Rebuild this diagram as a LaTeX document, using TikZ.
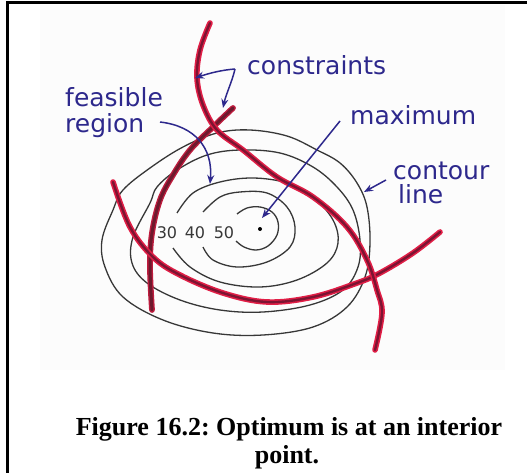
\documentclass[tikz,border=0pt]{standalone}
\usepackage{fontspec}
\setmainfont{Liberation Serif}
\newfontfamily\handfont{DejaVu Sans}
\usetikzlibrary{arrows.meta}
\definecolor{ink}{RGB}{45,40,140}
\definecolor{redout}{RGB}{225,30,70}
\definecolor{redin}{RGB}{125,20,50}
\definecolor{redinB}{RGB}{110,25,45}
\definecolor{pencil}{RGB}{55,55,55}
\begin{document}
\frenchspacing
\begin{tikzpicture}[x=1pt,y=-1pt,
  contourline/.style={draw=pencil, line width=1.3pt},
  constraint/.style={draw=redout, double=redin, line width=1.6pt, double distance=2.4pt, line cap=round},
  constraintB/.style={draw=redout!70!redinB, double=redinB, line width=1.4pt, double distance=3pt, line cap=round},
  inkarrow/.style={draw=ink, line width=1.5pt, -{Stealth[length=9pt,width=7pt]}},
  hand/.style={text=ink, font=\handfont\fontsize{25}{28}\selectfont, inner sep=0pt},
  level/.style={text=pencil, font=\handfont\fontsize{16}{19}\selectfont, inner sep=0pt},
  caption/.style={font=\bfseries\fontsize{26}{31}\selectfont, inner sep=0pt}]
\useasboundingbox (0,0) rectangle (527,473);
% photo background
\fill[black!1] (40,5) rectangle (505,370);
% frame
\draw[line width=2.5pt] (7.25,473) -- (7.25,2.75) -- (527,2.75);

% contour lines
\draw[contourline] plot[smooth, tension=0.6] coordinates {(237,214) (247,208) (260,207) (272,212) (278,222) (277,235) (268,246) (256,250) (244,247) (236,241)};
\draw[contourline] plot[smooth, tension=0.6] coordinates {(203,212) (220,197) (240,192) (267,193) (287,207) (295,227) (290,247) (267,262) (237,267) (213,260) (203,247)};
\draw[contourline] plot[smooth, tension=0.6] coordinates {(177,213) (193,193) (220,182) (253,178) (287,183) (313,197) (333,220) (338,243) (327,263) (297,280) (260,287) (220,282) (190,267) (173,248)};
\draw[contourline] plot[smooth cycle, tension=0.6] coordinates {(150,203) (133,237) (132,263) (147,283) (180,300) (220,310) (263,312) (310,305) (343,290) (358,267) (360,240) (353,210) (337,187) (313,167) (280,153) (240,150) (207,155) (177,170) (157,187)};
\draw[contourline] plot[smooth cycle, tension=0.6] coordinates {(123,190) (113,210) (102,240) (105,267) (123,297) (163,320) (213,333) (263,335) (313,327) (347,307) (365,277) (370,243) (367,207) (357,183) (340,163) (317,150) (287,136) (250,130) (217,133) (183,147) (150,168)};

% maximum point
\fill[black] (260,229) circle (2pt);
\coordinate (maxpt) at (262,218);

% level labels
\node[level] (l30) at (167,233) {30};
\node[level] (l40) at (195,233) {40};
\node[level] (l50) at (224,233) {50};

% constraints
\draw[constraintB] plot[smooth, tension=0.6] coordinates {(233,108) (213,127) (190,150) (173,175) (160,200) (152,233) (150,267) (152,310)};
\draw[constraint] plot[smooth, tension=0.6] coordinates {(113,182) (130,227) (153,257) (180,275) (223,293) (267,302) (313,297) (357,283) (380,273) (413,253) (440,232)};
\draw[constraint] plot[smooth, tension=0.6] coordinates {(210,23) (200,50) (197,78) (203,105) (217,130) (243,150) (277,177) (313,197) (347,227) (367,260) (377,290) (382,313) (375,350)};

% labels
\node[hand, anchor=base west] (constr) at (247,75) {constraints};
\node[hand, anchor=base west] (feas) at (65,107) {feasible};
\node[hand, anchor=base west] (region) at (65,133) {region};
\node[hand, anchor=base west] (maxlab) at (350,125) {maximum};
\node[hand, anchor=base west] (contour) at (393,180) {contour};
\node[hand, anchor=base west] (line) at (398,204) {line};

% arrows
\coordinate (cstart) at (235,69);
\coordinate (tipA) at (195,78);
\coordinate (tipB) at (223,108);
\coordinate (fstart) at (160,122);
\coordinate (ftip) at (210,184);
\coordinate (mstart) at (340,121);
\coordinate (ctstart) at (386,180);
\coordinate (cttip) at (364,192);
\draw[inkarrow] (cstart) .. controls (222,70) and (210,73) .. (tipA);
\draw[inkarrow] (cstart) .. controls (232,82) and (226,94) .. (tipB);
\draw[inkarrow] (fstart) .. controls (195,126) and (213,148) .. (ftip);
\draw[inkarrow] (mstart) -- (maxpt);
\draw[inkarrow] (ctstart) -- (cttip);

% caption
\node[caption, anchor=base] (cap1) at (289,435) {Figure 16.2: Optimum is at an interior};
\node[caption, anchor=base] (cap2) at (287,463) {point.};
\end{tikzpicture}
\end{document}
